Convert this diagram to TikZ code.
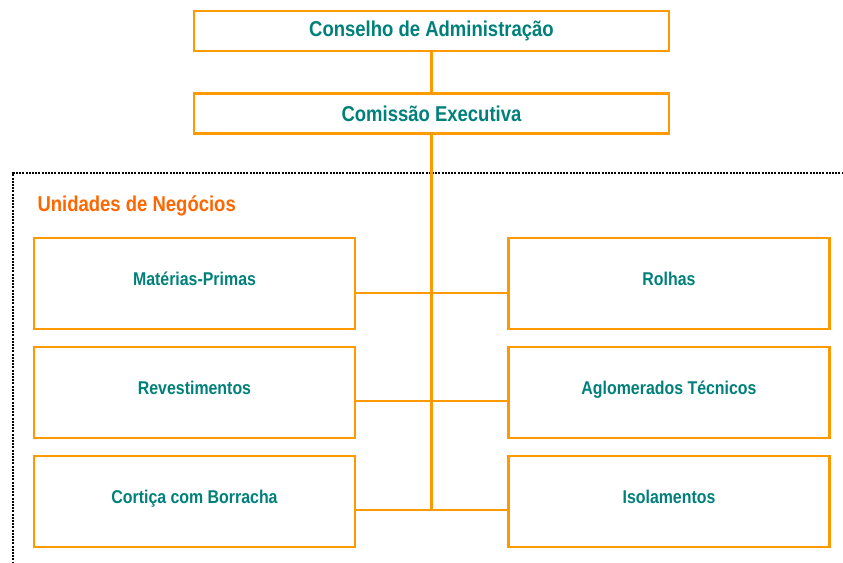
\documentclass[tikz,border=0pt]{standalone}
\usepackage{fontspec}
\setmainfont{Liberation Sans}
\newfontfamily\narrowsans[FakeStretch=0.86]{Liberation Sans}
\usepackage{xcolor}
\definecolor{lineorange}{HTML}{FF9900}
\definecolor{titleorange}{HTML}{FF6600}
\definecolor{textteal}{HTML}{00807A}

\begin{document}
\begin{tikzpicture}[x=1pt, y=-1pt,
    box/.style = {draw=lineorange, line width=2.6pt, text=textteal, font=\narrowsans\bfseries\fontsize{18.5}{20}\selectfont, inner sep=0pt},
    topbox/.style = {box, minimum width=475pt, minimum height=40pt, font=\narrowsans\bfseries\fontsize{21.5}{23}\selectfont},
    unitbox/.style = {box, minimum width=321pt, minimum height=91pt, text depth=9pt},
    link/.style = {draw=lineorange, line width=2.6pt}]
        \useasboundingbox (0,0) rectangle (843,562);

        % Dotted frame of the business units
        \draw[line width=2.2pt, dash pattern=on 2pt off 1.2pt] (850,173) -- (13,173) -- (13,570);
        \node[anchor=west, text=titleorange, font=\narrowsans\bfseries\fontsize{21.5}{23}\selectfont] (units) at (34,206) {Unidades de Negócios};

        % Board and executive committee
        \node[topbox] (board) at (431.5,31) {Conselho de Administração};
        \node[topbox] (exec) at (431.5,113.5) {Comissão Executiva};

        % Business units
        \node[unitbox] (raw) at (194.5,283.5) {Matérias-Primas};
        \node[unitbox] (stoppers) at (669,283.5) {Rolhas};
        \node[unitbox] (floors) at (194.5,392.5) {Revestimentos};
        \node[unitbox] (composites) at (669,392.5) {Aglomerados Técnicos};
        \node[unitbox] (rubber) at (194.5,501.5) {Cortiça com Borracha};
        \node[unitbox] (insulation) at (669,501.5) {Isolamentos};

        % Junctions on the trunk
        \coordinate (j1) at (431.5,293);
        \coordinate (j2) at (431.5,401);
        \coordinate (j3) at (431.5,510);

        % Connectors
        \draw[link] (board) -- (exec);
        \draw[link] (exec) -- (j3);
        \draw[link] (j1 -| raw.east) -- (j1 -| stoppers.west);
        \draw[link] (j2 -| floors.east) -- (j2 -| composites.west);
        \draw[link] (j3 -| rubber.east) -- (j3 -| insulation.west);
\end{tikzpicture}
\end{document}
